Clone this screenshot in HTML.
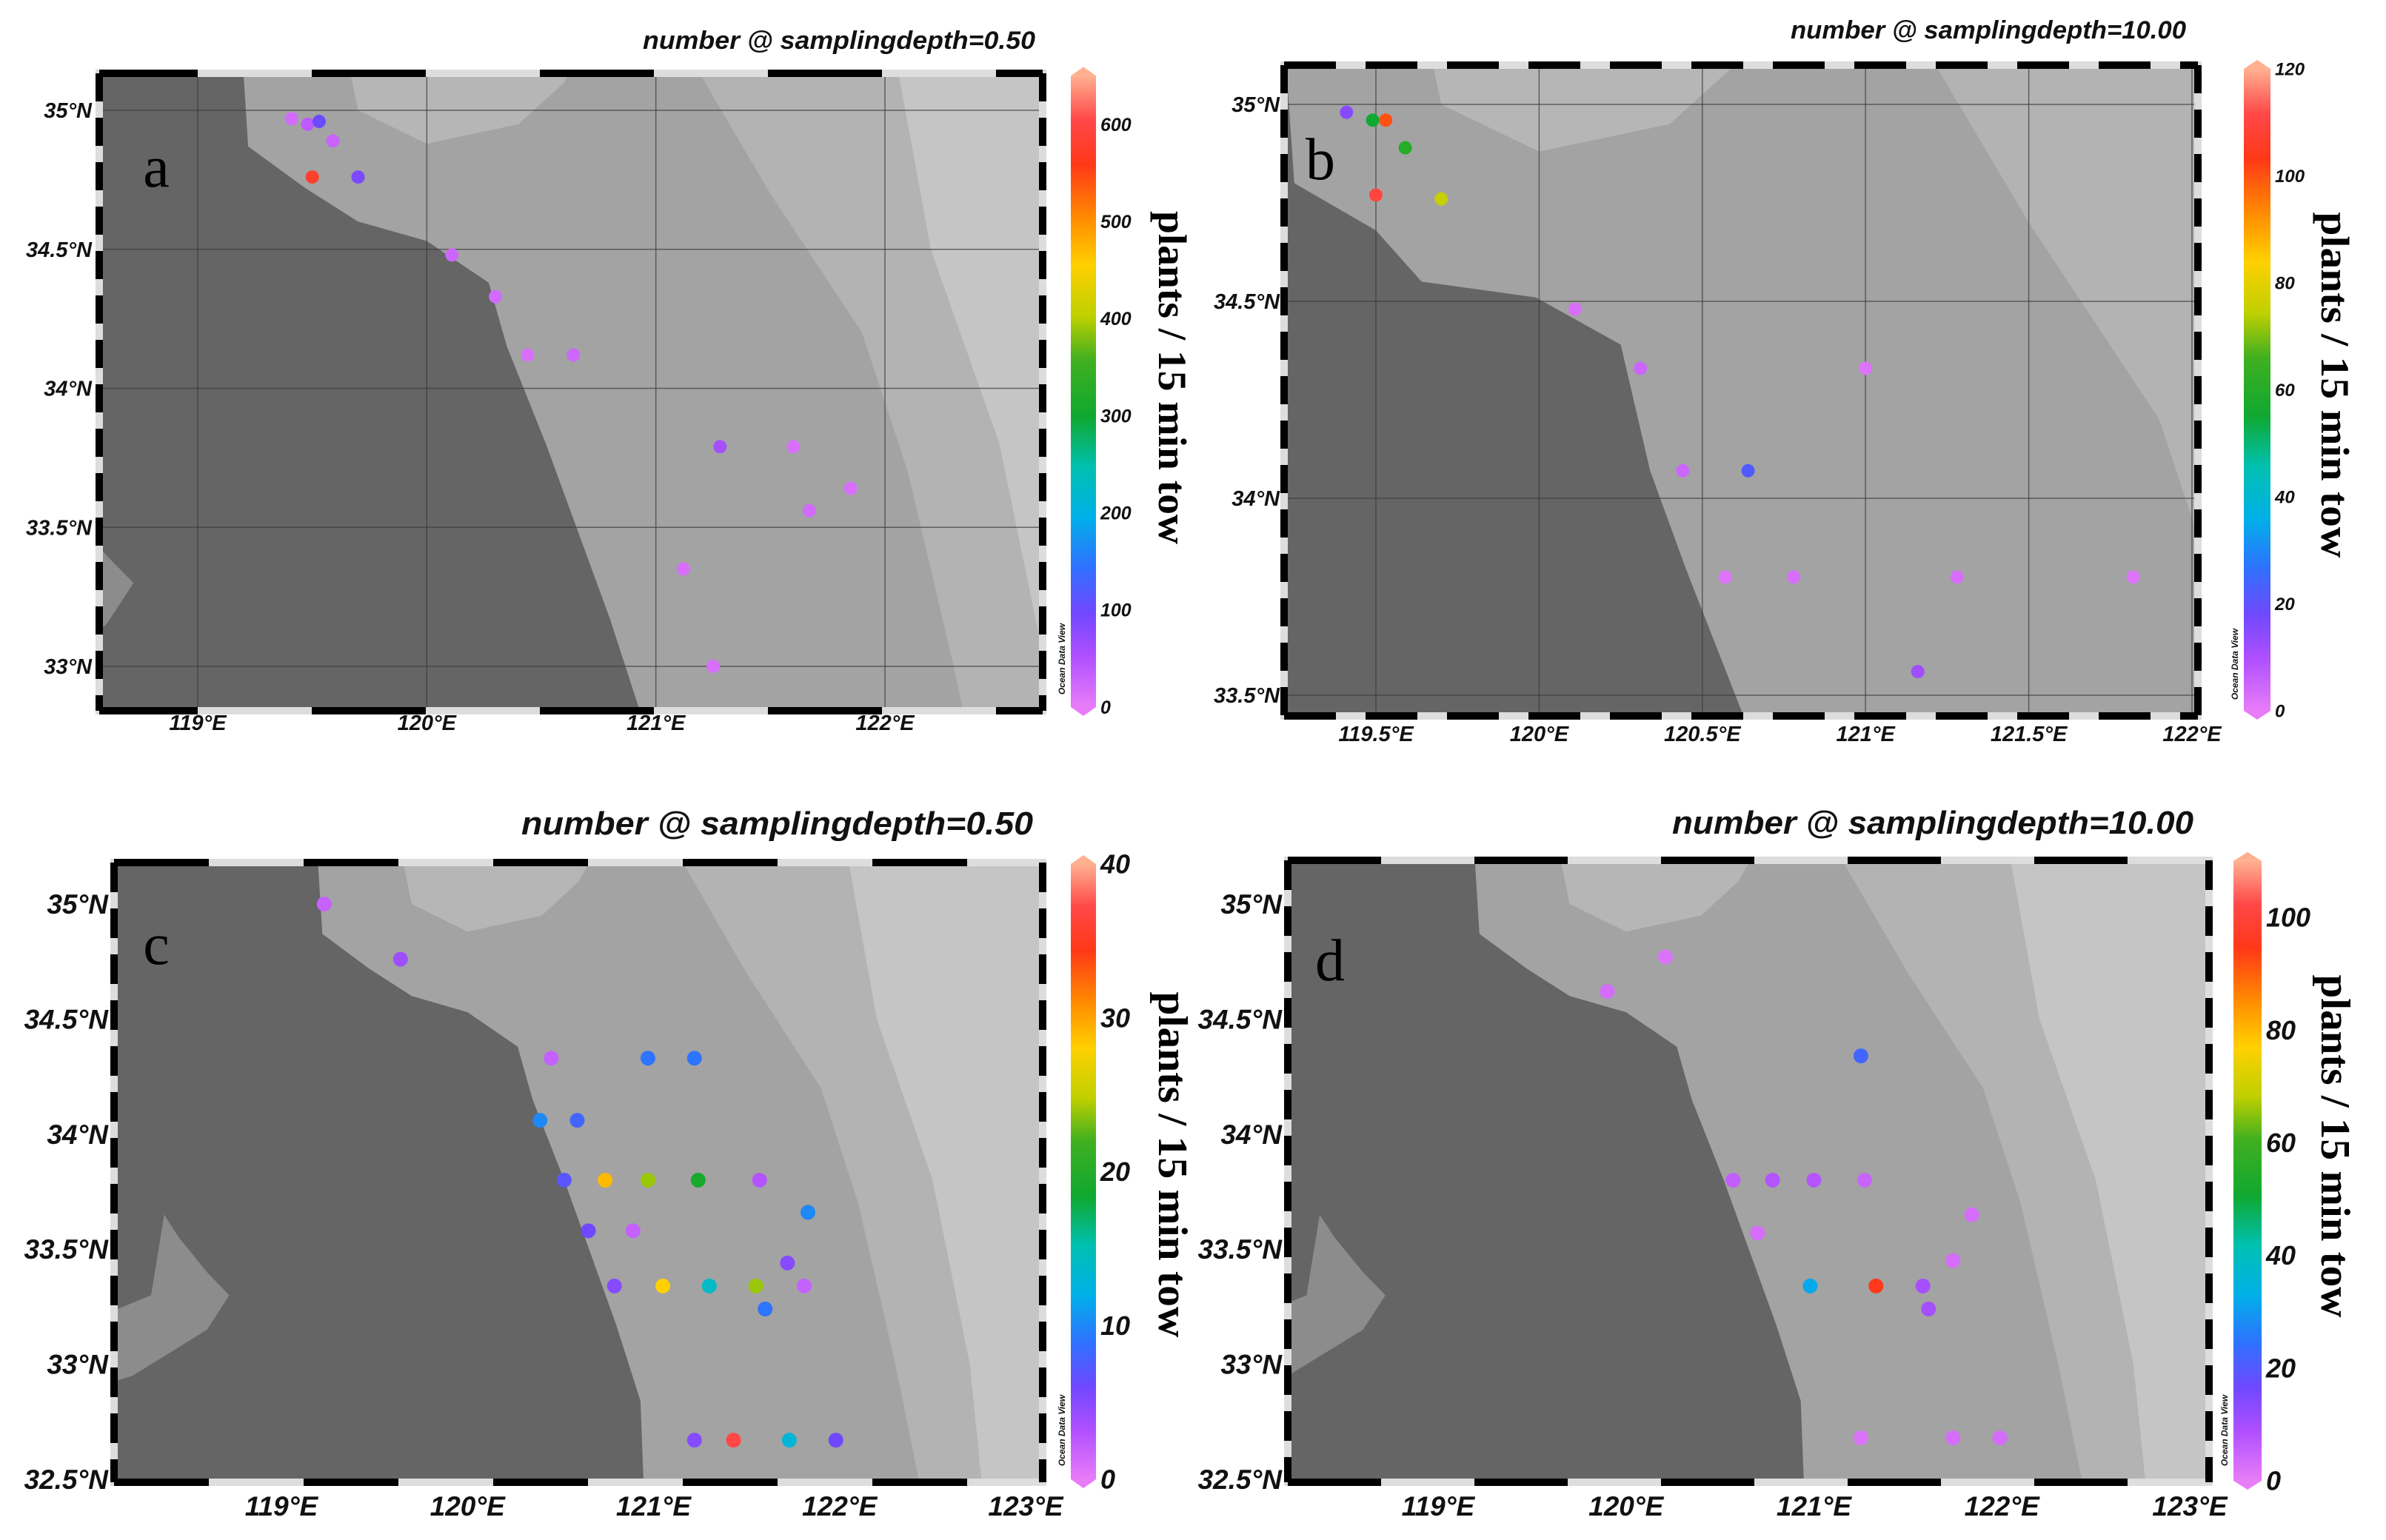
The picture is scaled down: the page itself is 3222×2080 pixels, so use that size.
<!DOCTYPE html>
<html><head><meta charset="utf-8"><style>
html,body{margin:0;padding:0;background:#fff;overflow:hidden;}
svg{display:block;}
.tk{font-family:"Liberation Sans",sans-serif;font-weight:bold;font-style:italic;fill:#111;}
.sf{font-family:"Liberation Serif",serif;fill:#000;}
</style></head><body>
<svg id="fig" width="3222" height="2080" viewBox="0 0 3222 2080" xmlns="http://www.w3.org/2000/svg"></svg>
<script>
// ---- data ----
const aLon=[119.41,119.48,119.53,119.59,119.50,119.70,120.11,120.30,120.44,120.64,121.28,121.60,121.85,121.67,121.12,121.25];
const aLat=[34.97,34.95,34.96,34.89,34.76,34.76,34.48,34.33,34.12,34.12,33.79,33.79,33.64,33.56,33.35,33.00];
const aVal=[20,40,100,30,580,90,25,20,15,25,60,15,15,20,15,15];
const bLon=[119.41,119.49,119.53,119.59,119.50,119.70,120.11,120.31,121.0,120.44,120.64,120.57,120.78,121.28,121.82,121.16];
const bLat=[34.98,34.96,34.96,34.89,34.77,34.76,34.48,34.33,34.33,34.07,34.07,33.80,33.80,33.80,33.80,33.56];
const bVal=[15,55,100,60,110,75,3,5,2,5,22,2,3,3,2,12];
const cLon=[119.23,119.64,120.45,120.97,121.22,120.39,120.59,120.52,120.74,120.97,121.24,121.57,121.83,120.65,120.89,121.72,120.79,121.05,121.30,121.55,121.81,121.60,121.22,121.43,121.73,121.98];
const cLat=[35.0,34.76,34.33,34.33,34.33,34.06,34.06,33.80,33.80,33.80,33.80,33.80,33.66,33.58,33.58,33.44,33.34,33.34,33.34,33.34,33.34,33.24,32.67,32.67,32.67,32.67];
const cVal=[2,4,2,9,9,10,8,7,29,24,19,3,10,6,2,5,5,28,14,24,2,9,5,37,13,6];
const dLon=[120.21,119.90,121.25,120.57,120.78,121.0,121.27,121.84,120.70,121.74,120.98,121.33,121.58,121.61,121.25,121.74,121.99];
const dLat=[34.77,34.62,34.34,33.80,33.80,33.80,33.80,33.65,33.57,33.45,33.34,33.34,33.34,33.24,32.68,32.68,32.68];
const dVal=[2,3,22,6,8,8,5,3,3,3,32,95,10,10,2,3,3];
const aCbTicks=[0,100,200,300,400,500,600];
const bCbTicks=[0,20,40,60,80,100,120];
const cCbTicks=[0,10,20,30,40];
const dCbTicks=[0,20,40,60,80,100];
const aLonTicks=[119,120,121,122];
const bLonTicks=[119.5,120,120.5,121,121.5,122];
const cdLonTicks=[119,120,121,122,123];
const aLatTicks=[33,33.5,34,34.5,35];
const bLatTicks=[33.5,34,34.5,35];
const cdLatTicks=[32.5,33,33.5,34,34.5,35];
const landMain=[[117,35.4],[119.18,35.4],[119.2,35.13],[119.22,34.87],[119.47,34.72],[119.7,34.6],[120.0,34.53],[120.27,34.38],[120.35,34.15],[120.52,33.8],[120.68,33.44],[120.8,33.17],[120.93,32.84],[120.96,32.2],[117,32.2]];
const landB=[[117,35.4],[119.2,35.4],[119.25,34.8],[119.5,34.68],[119.64,34.55],[119.99,34.51],[120.25,34.39],[120.34,34.07],[120.45,33.82],[120.62,33.46],[120.7,33.3],[117,33.3]];
const lagoon=[[118.37,33.65],[118.45,33.55],[118.6,33.4],[118.72,33.3],[118.6,33.15],[118.4,33.05],[118.2,32.95],[118.0,32.9],[118.0,33.2],[118.3,33.3]];
const band1=[[121.0,35.4],[121.5,34.7],[121.9,34.2],[122.1,33.7],[122.3,33.0],[122.5,32.2],[124,32.2],[124,35.4]];
const band2=[[122.0,35.4],[122.2,34.5],[122.5,33.8],[122.7,33.0],[122.8,32.2],[124,32.2],[124,35.4]];
const northPatch=[[119.6,35.4],[119.7,35.0],[120.0,34.88],[120.4,34.95],[120.6,35.1],[120.8,35.4]];

const NS="http://www.w3.org/2000/svg";
const svg=document.getElementById('fig');
function mk(tag,attrs,parent){const e=document.createElementNS(NS,tag);for(const k in attrs)e.setAttribute(k,attrs[k]);(parent||svg).appendChild(e);return e;}

const stops=[[0,'#e87cf8'],[0.08,'#b050ff'],[0.15,'#7048ff'],[0.22,'#3070ff'],[0.3,'#00b0e8'],[0.38,'#00c0b0'],[0.46,'#10a830'],[0.55,'#40b020'],[0.62,'#c0d000'],[0.7,'#ffd000'],[0.77,'#ff9000'],[0.86,'#ff3818'],[0.93,'#ff4848'],[1,'#ffb090']];
function hex(h){return [parseInt(h.substr(1,2),16),parseInt(h.substr(3,2),16),parseInt(h.substr(5,2),16)];}
function cmap(t){t=Math.max(0,Math.min(1,t));for(let i=1;i<stops.length;i++){if(t<=stops[i][0]){const a=stops[i-1],b=stops[i];const f=(t-a[0])/(b[0]-a[0]);const ca=hex(a[1]),cb=hex(b[1]);return 'rgb('+ca.map((v,j)=>Math.round(v+(cb[j]-v)*f)).join(',')+')';}}return stops[stops.length-1][1];}

let gid=0;
function panel(P){
  const g=mk('g',{});
  
  
  const X=lon=>P.xA+(lon-P.lonA)*(P.xB-P.xA)/(P.lonB-P.lonA);
  const Y=lat=>P.yA+(lat-P.latA)*(P.yB-P.yA)/(P.latB-P.latA);
  const cid='clip'+(gid++);
  const cp=mk('clipPath',{id:cid},g);mk('rect',{x:P.x0,y:P.y0,width:P.x1-P.x0,height:P.y1-P.y0},cp);
  const m=mk('g',{'clip-path':'url(#'+cid+')'},g);
  
  
  mk('rect',{x:P.x0,y:P.y0,width:P.x1-P.x0,height:P.y1-P.y0,fill:'#a3a3a3'},m);
  const poly=(pts,fill,name)=>{const p=mk('polygon',{points:pts.map(q=>X(q[0]).toFixed(1)+','+Y(q[1]).toFixed(1)).join(' '),fill:fill},m);};
  poly(northPatch,'#b6b6b6','shelf-shallow');
  poly(band1,'#b3b3b3','sea-depth-band');
  poly(band2,'#c5c5c5','sea-depth-band-outer');
  poly(P.land,'#656565','land');
  if(P.lagoon) poly(lagoon,'#8c8c8c','inland-water');
  if(P.grid){
    P.lonTicks.forEach(v=>{const l=mk('line',{x1:X(v),x2:X(v),y1:P.y0,y2:P.y1,stroke:'#3a3a3a','stroke-width':1.5,opacity:0.7},m);});
    P.latTicks.forEach(v=>{const l=mk('line',{x1:P.x0,x2:P.x1,y1:Y(v),y2:Y(v),stroke:'#3a3a3a','stroke-width':1.5,opacity:0.7},m);});
  }
  P.lon.forEach((lo,i)=>{const c=mk('circle',{cx:X(lo),cy:Y(P.lat[i]),r:P.r,fill:cmap(P.val[i]/P.vmax)},m);});
  mk('rect',{x:P.x0,y:P.y0,width:P.x1-P.x0,height:P.y1-P.y0,fill:'none',stroke:'#ddd','stroke-width':10},g);
  const fr=[[P.x0,P.y0,P.x1,P.y0,P.hdash],[P.x0,P.y1,P.x1,P.y1,P.hdash],[P.x0,P.y0,P.x0,P.y1,P.vdash],[P.x1,P.y0,P.x1,P.y1,P.vdash]];
  fr.forEach(f=>{const l=mk('line',{x1:f[0],y1:f[1],x2:f[2],y2:f[3],stroke:'#000','stroke-width':10,'stroke-dasharray':f[4]},g);});
  P.lonTicks.forEach(v=>{const t=mk('text',{x:X(v),y:P.lonLabY,'text-anchor':'middle','font-size':P.fs,class:'tk'},g);t.textContent=(v%1?v.toFixed(1):v)+'°E';});
  P.latTicks.forEach(v=>{const t=mk('text',{x:P.latLabX,y:Y(v)+P.fs*0.35,'text-anchor':'end','font-size':P.fs,class:'tk'},g);t.textContent=(v%1?v.toFixed(1):v)+'°N';});
  const tt=mk('text',{x:P.tx1,y:P.ty,'text-anchor':'end','font-size':P.tfs,class:'tk',textLength:P.tx1-P.tx0,lengthAdjust:'spacingAndGlyphs'},g);
  tt.textContent=P.title;
  const lt=mk('text',{x:P.lx,y:P.ly,'text-anchor':'middle','font-size':P.lfs,class:'sf'},g);
  lt.textContent=P.id;
  const C=P.cb;const cy=v=>C.y0+(v/P.vmax)*(C.yMax-C.y0);
  const gr='grad'+gid;const lg=mk('linearGradient',{id:gr,x1:0,y1:1,x2:0,y2:0},g);
  stops.forEach(s=>mk('stop',{offset:s[0],'stop-color':s[1]},lg));
  const cb=mk('g',{},g);
  mk('rect',{x:C.x,y:cy(P.vmax),width:C.w,height:cy(0)-cy(P.vmax),fill:'url(#'+gr+')'},cb);
  mk('polygon',{points:`${C.x},${cy(P.vmax)} ${C.x+C.w/2},${cy(P.vmax)-12} ${C.x+C.w},${cy(P.vmax)}`,fill:stops[stops.length-1][1]},cb);
  mk('polygon',{points:`${C.x},${cy(0)} ${C.x+C.w/2},${cy(0)+12} ${C.x+C.w},${cy(0)}`,fill:stops[0][1]},cb);
  C.ticks.forEach(v=>{const t=mk('text',{x:C.x+C.w+6,y:cy(v)+C.fs*0.35,'font-size':C.fs,class:'tk'},cb);t.textContent=v;});
  const ax=mk('text',{x:0,y:0,'text-anchor':'middle','dominant-baseline':'central','font-size':P.afs,'font-weight':'bold',class:'sf',textLength:P.alen,lengthAdjust:'spacingAndGlyphs',transform:`translate(${P.ax},${P.ay}) rotate(90)`},g);
  ax.textContent='plants / 15 min tow';
  const od=mk('text',{x:0,y:0,'text-anchor':'middle','font-size':12,class:'tk',transform:`translate(${C.x-8},${P.y1-70}) rotate(-90)`},g);
  od.textContent='Ocean Data View';
}

panel({id:'a',x0:134,x1:1408,y0:99,y1:960,lonA:119,xA:267,lonB:122,xB:1195,latA:35,yA:149,latB:33,yB:900,
  land:landMain,lagoon:true,grid:true,lon:aLon,lat:aLat,val:aVal,vmax:650,r:9,hdash:'133 154 154 154 154 154 154 154 154',vdash:'38 22',
  lonTicks:aLonTicks,latTicks:aLatTicks,lonLabY:986,latLabX:124,fs:29,
  title:'number @ samplingdepth=0.50',tx0:868,tx1:1398,ty:66,tfs:34,lx:211,ly:252,lfs:80,
  cb:{x:1446,w:34,y0:955,yMax:955-(955-168)*650/600,ticks:aCbTicks,fs:25},ax:1583,ay:510,afs:54,alen:450});
panel({id:'b',x0:1734,x1:2968,y0:88,y1:967,lonA:119.5,xA:1858,lonB:122,xB:2960,latA:35,yA:141,latB:33.5,yB:939,
  land:landB,lagoon:false,grid:true,lon:bLon,lat:bLat,val:bVal,vmax:120,r:9,hdash:'70 40',vdash:'38 22',
  lonTicks:bLonTicks,latTicks:bLatTicks,lonLabY:1001,latLabX:1728,fs:29,
  title:'number @ samplingdepth=10.00',tx0:2418,tx1:2952,ty:52,tfs:34,lx:1783,ly:242,lfs:80,
  cb:{x:3030,w:36,y0:960,yMax:93,ticks:bCbTicks,fs:24},ax:3153,ay:520,afs:54,alen:467});
panel({id:'c',x0:154,x1:1408,y0:1165,y1:2002,lonA:119,xA:380,lonB:123,xB:1385,latA:35,yA:1221,latB:32.5,yB:1998,
  land:landMain,lagoon:true,grid:false,lon:cLon,lat:cLat,val:cVal,vmax:40,r:10,hdash:'128 128',vdash:'40 22',
  lonTicks:cdLonTicks,latTicks:cdLatTicks,lonLabY:2047,latLabX:146,fs:37,
  title:'number @ samplingdepth=0.50',tx0:704,tx1:1395,ty:1127,tfs:44,lx:211,ly:1302,lfs:80,
  cb:{x:1446,w:34,y0:1998,yMax:1167,ticks:cCbTicks,fs:36},ax:1583,ay:1573,afs:56,alen:467});
panel({id:'d',x0:1739,x1:2983,y0:1162,y1:2002,lonA:119,xA:1942,lonB:123,xB:2957,latA:35,yA:1221,latB:32.5,yB:1998,
  land:landMain,lagoon:true,grid:false,lon:dLon,lat:dLat,val:dVal,vmax:110,r:10,hdash:'126 126',vdash:'40 22',
  lonTicks:cdLonTicks,latTicks:cdLatTicks,lonLabY:2047,latLabX:1731,fs:37,
  title:'number @ samplingdepth=10.00',tx0:2258,tx1:2962,ty:1126,tfs:44,lx:1796,ly:1324,lfs:80,
  cb:{x:3016,w:38,y0:2000,yMax:2000-(2000-1239)*110/100,ticks:dCbTicks,fs:36},ax:3153,ay:1548,afs:56,alen:463});
</script>
</body></html>
